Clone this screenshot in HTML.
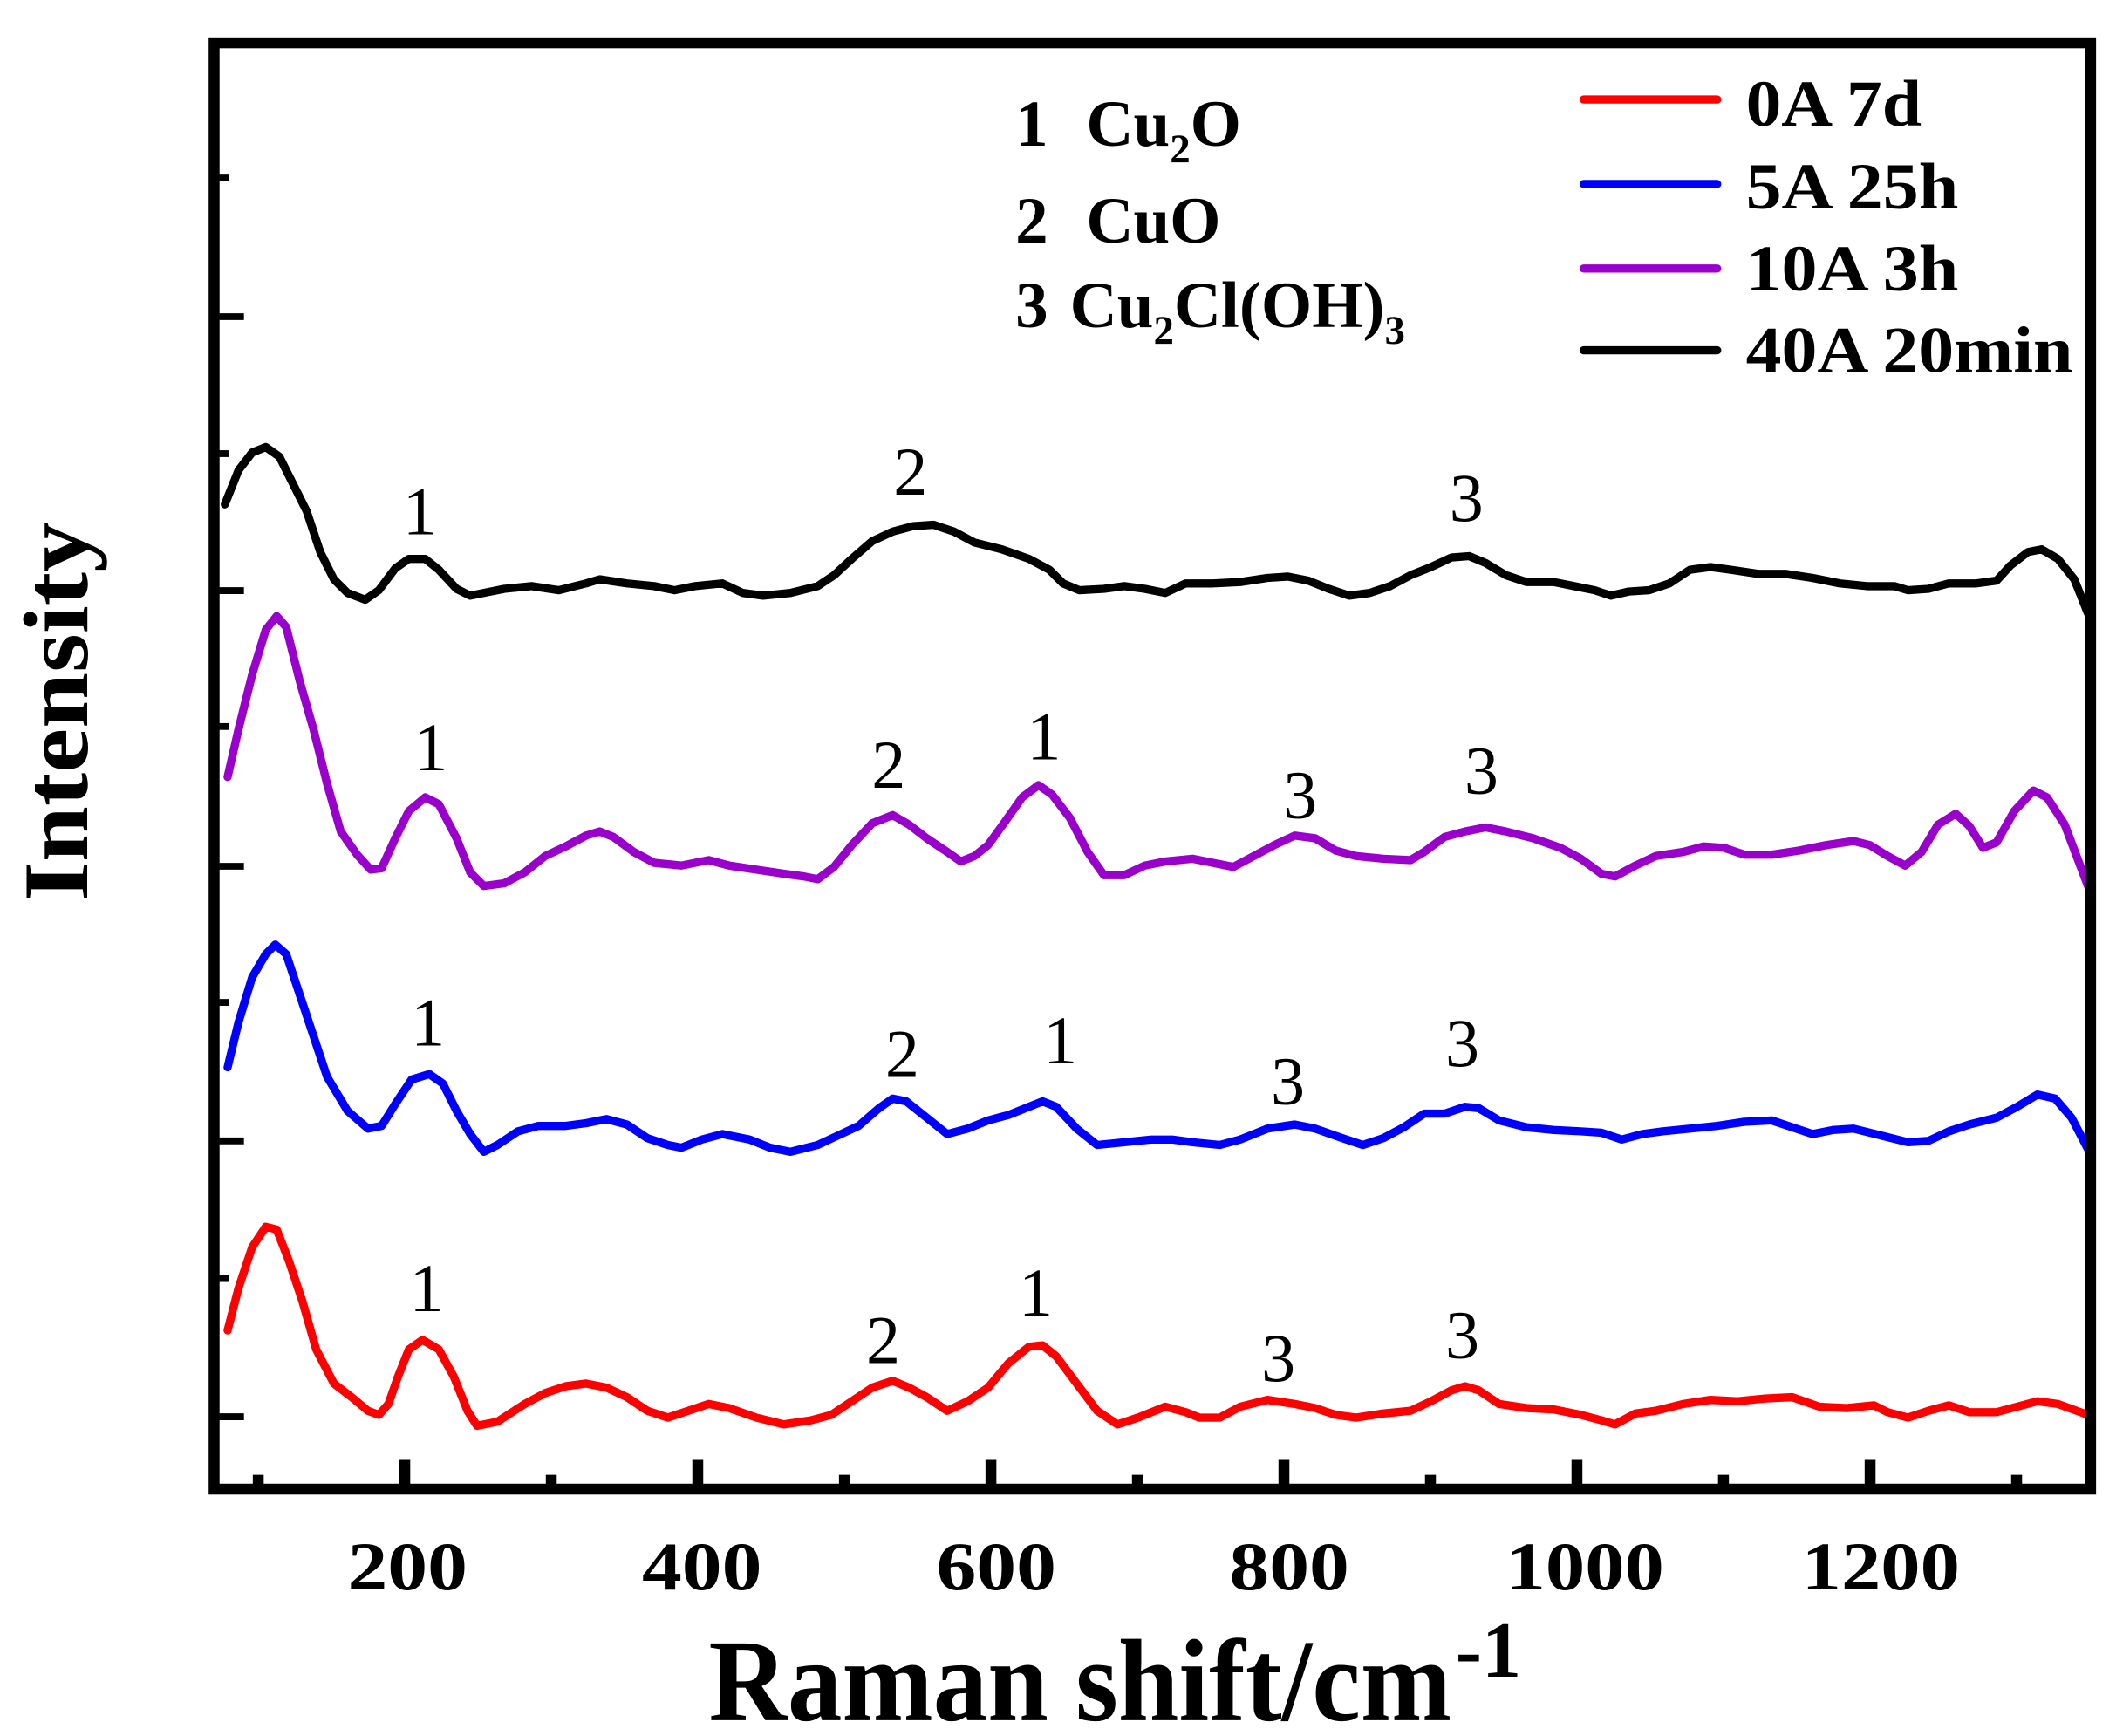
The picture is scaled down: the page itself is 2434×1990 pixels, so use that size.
<!DOCTYPE html>
<html><head><meta charset="utf-8"><style>
html,body{margin:0;padding:0;background:#fff}
svg{display:block}
svg text{font-family:"Liberation Serif","Times New Roman",serif}
.b{font-weight:bold}
</style></head><body>
<svg width="2434" height="1990" viewBox="0 0 1557.76 1273.6" xmlns="http://www.w3.org/2000/svg" font-family="Liberation Serif, serif">
<rect x="0" y="0" width="1557.76" height="1273.6" fill="#fff"/>
<g fill="none" stroke-linejoin="round" stroke-linecap="round" stroke-width="6">
<polyline stroke="#000" points="165,370 175,345 185,332 195,328 205,335 215,355 225,375 235,405 245,425 255,435 268,440 278,433 290,417 300,410 312,410 322,418 335,432 345,437 355,435 370,432 390,430 410,433 430,428 440,425 460,428 480,430 495,433 510,430 530,428 545,435 560,437 580,435 600,430 612,422 625,410 640,397 655,390 670,386 685,385 700,390 715,398 735,403 755,410 770,418 780,428 792,433 810,432 825,430 840,432 855,435 870,428 890,428 910,427 930,424 945,423 960,426 975,432 990,437 1005,435 1020,430 1035,422 1050,416 1065,409 1078,408 1090,413 1105,422 1120,427 1140,427 1155,430 1170,433 1182,437 1195,434 1210,433 1225,428 1240,418 1255,416 1270,418 1290,421 1310,421 1330,424 1350,428 1370,430 1390,430 1400,433 1415,432 1430,428 1450,428 1465,426 1475,415 1488,405 1498,403 1510,410 1522,425 1532,450"/>
<polyline stroke="#9900cc" points="167,570 175,535 185,495 195,462 203,452 210,460 220,500 230,535 240,575 250,610 262,627 272,638 280,637 290,615 300,595 312,585 322,590 335,615 345,640 355,650 370,648 385,640 400,628 415,621 430,613 440,610 450,614 465,625 480,633 500,635 520,631 535,635 555,638 575,641 590,643 600,645 612,636 625,620 640,604 655,598 667,605 680,615 695,625 705,632 715,628 725,620 738,602 750,585 762,576 772,583 785,600 798,625 810,642 825,642 840,635 855,632 875,630 890,633 905,636 920,628 935,620 950,613 965,615 980,624 995,628 1015,630 1035,631 1045,625 1060,614 1075,610 1090,607 1105,610 1125,615 1145,622 1160,630 1175,641 1185,643 1200,635 1215,628 1235,625 1250,621 1265,622 1280,627 1300,627 1320,624 1340,620 1360,617 1372,620 1385,628 1398,635 1410,625 1422,605 1435,597 1445,606 1455,622 1465,618 1478,595 1492,580 1502,585 1515,605 1532,650"/>
<polyline stroke="#0000ff" points="167,783 175,750 185,717 195,700 202,693 210,700 220,730 230,760 240,790 255,815 270,828 280,826 290,810 302,792 315,788 325,795 335,815 345,832 355,845 365,840 380,830 395,826 415,826 430,824 445,821 460,825 475,835 490,840 500,842 515,836 530,832 550,836 565,842 580,845 600,840 615,833 630,826 645,813 655,806 665,808 680,820 695,832 710,828 725,822 740,818 755,812 765,808 775,812 790,828 805,840 825,838 845,836 860,836 875,838 895,840 910,836 930,828 950,825 965,828 985,835 1000,840 1015,835 1030,827 1045,817 1060,817 1075,812 1085,813 1100,822 1120,827 1140,829 1160,830 1175,831 1190,836 1205,832 1220,830 1240,828 1260,826 1280,823 1300,822 1315,827 1330,832 1345,829 1360,828 1380,833 1400,838 1415,837 1430,830 1445,825 1465,820 1480,812 1495,803 1508,806 1520,820 1532,843"/>
<polyline stroke="#ff0000" points="167,976 175,945 185,915 195,900 203,902 212,925 222,955 232,990 245,1015 258,1025 270,1035 278,1038 285,1030 292,1010 300,990 310,983 322,990 333,1010 343,1035 350,1046 365,1043 385,1030 400,1022 415,1017 430,1015 445,1018 460,1025 475,1035 490,1040 505,1035 520,1030 535,1033 555,1040 575,1045 595,1042 610,1038 625,1028 640,1018 655,1013 667,1018 680,1025 695,1035 710,1028 725,1018 740,1000 755,988 765,987 775,995 790,1015 805,1035 820,1045 835,1040 855,1032 870,1036 880,1040 895,1040 910,1032 930,1027 950,1030 965,1033 980,1038 995,1040 1015,1037 1035,1035 1050,1028 1065,1020 1075,1017 1085,1020 1100,1030 1120,1033 1140,1034 1160,1038 1175,1042 1185,1045 1200,1037 1215,1035 1235,1030 1255,1027 1275,1028 1295,1026 1315,1025 1335,1032 1355,1033 1375,1031 1385,1036 1400,1040 1415,1035 1430,1031 1445,1036 1465,1036 1480,1032 1495,1028 1510,1030 1532,1038"/>
</g>
<rect x="157.1" y="31.4" width="1376.9" height="1061.1" fill="none" stroke="#000" stroke-width="8"/>
<g stroke="#000" stroke-width="5">
<line x1="161" y1="130.6" x2="168" y2="130.6"/>
<line x1="161" y1="232.3" x2="179" y2="232.3"/>
<line x1="161" y1="332.8" x2="168" y2="332.8"/>
<line x1="161" y1="433.3" x2="179" y2="433.3"/>
<line x1="161" y1="533" x2="168" y2="533"/>
<line x1="161" y1="635.5" x2="179" y2="635.5"/>
<line x1="161" y1="735.4" x2="168" y2="735.4"/>
<line x1="161" y1="837" x2="179" y2="837"/>
<line x1="161" y1="938" x2="168" y2="938"/>
<line x1="161" y1="1039.4" x2="179" y2="1039.4"/>
</g>
<g stroke="#000" stroke-width="8">
<line x1="189.5" y1="1089" x2="189.5" y2="1082"/>
<line x1="297" y1="1089" x2="297" y2="1071"/>
<line x1="404.5" y1="1089" x2="404.5" y2="1082"/>
<line x1="512" y1="1089" x2="512" y2="1071"/>
<line x1="619.6" y1="1089" x2="619.6" y2="1082"/>
<line x1="727.1" y1="1089" x2="727.1" y2="1071"/>
<line x1="834.6" y1="1089" x2="834.6" y2="1082"/>
<line x1="942.1" y1="1089" x2="942.1" y2="1071"/>
<line x1="1049.6" y1="1089" x2="1049.6" y2="1082"/>
<line x1="1157.1" y1="1089" x2="1157.1" y2="1071"/>
<line x1="1264.6" y1="1089" x2="1264.6" y2="1082"/>
<line x1="1372.2" y1="1089" x2="1372.2" y2="1071"/>
<line x1="1479.7" y1="1089" x2="1479.7" y2="1082"/>
</g>
<g class="b" font-size="50" text-anchor="middle">
<text x="299" y="1166" textLength="88" lengthAdjust="spacingAndGlyphs">200</text>
<text x="515" y="1166" textLength="88" lengthAdjust="spacingAndGlyphs">400</text>
<text x="731" y="1166" textLength="88" lengthAdjust="spacingAndGlyphs">600</text>
<text x="946" y="1166" textLength="88" lengthAdjust="spacingAndGlyphs">800</text>
<text x="1163" y="1166" textLength="116" lengthAdjust="spacingAndGlyphs">1000</text>
<text x="1380" y="1166" textLength="116" lengthAdjust="spacingAndGlyphs">1200</text>
</g>
<text class="b" x="520" y="1262" font-size="86" textLength="545" lengthAdjust="spacingAndGlyphs">Raman shift/cm</text>
<text class="b" x="1068" y="1230" font-size="58">-1</text>
<text class="b" font-size="68" transform="translate(64,522) rotate(-90)" text-anchor="middle" textLength="278" lengthAdjust="spacingAndGlyphs">Intensity</text>
<g stroke-width="6" stroke-linecap="round">
<line x1="1162" y1="73" x2="1260" y2="73" stroke="#ff0000"/>
<line x1="1162" y1="135" x2="1260" y2="135" stroke="#0000ff"/>
<line x1="1162" y1="197" x2="1260" y2="197" stroke="#9900cc"/>
<line x1="1162" y1="257" x2="1260" y2="257" stroke="#000"/>
</g>
<g class="b" font-size="48">
<text x="1281" y="92" textLength="129" lengthAdjust="spacingAndGlyphs">0A 7d</text>
<text x="1281" y="153" textLength="156" lengthAdjust="spacingAndGlyphs">5A 25h</text>
<text x="1281" y="213" textLength="156" lengthAdjust="spacingAndGlyphs">10A 3h</text>
<text x="1281" y="273" textLength="240" lengthAdjust="spacingAndGlyphs">40A 20min</text>
</g>
<g class="b" font-size="48">
<text x="745" y="107">1</text>
<text x="797" y="107">Cu<tspan font-size="30" dy="12">2</tspan><tspan dy="-12">O</tspan></text>
<text x="745" y="178">2</text>
<text x="797" y="178">CuO</text>
<text x="745" y="240">3</text>
<text x="785" y="240">Cu<tspan font-size="30" dy="12">2</tspan><tspan dy="-12">Cl(OH)</tspan><tspan font-size="30" dy="12">3</tspan></text>
</g>
<g font-size="50" text-anchor="middle">
<text x="308" y="392">1</text><text x="668" y="363">2</text><text x="1076" y="382">3</text>
<text x="316" y="565">1</text><text x="652" y="578">2</text><text x="766" y="557">1</text><text x="954" y="600">3</text><text x="1087" y="582">3</text>
<text x="314" y="767">1</text><text x="662" y="790">2</text><text x="778" y="780">1</text><text x="945" y="810">3</text><text x="1073" y="782">3</text>
<text x="313" y="962">1</text><text x="648" y="1000">2</text><text x="760" y="965">1</text><text x="938" y="1013">3</text><text x="1073" y="996">3</text>
</g>
</svg>
</body></html>
